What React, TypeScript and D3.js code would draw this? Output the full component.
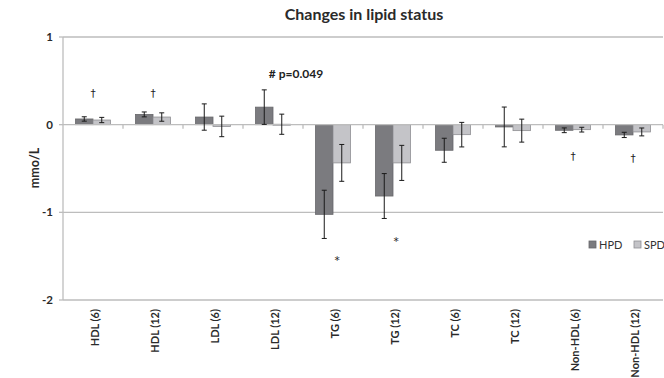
import React from "react";
import * as d3 from "d3";

const categories = [
  "HDL (6)", "HDL (12)", "LDL (6)", "LDL (12)", "TG (6)",
  "TG (12)", "TC (6)", "TC (12)", "Non-HDL (6)", "Non-HDL (12)",
];
const seriesNames = ["HPD", "SPD"];
const hpdValues = [0.065, 0.117, 0.087, 0.2, -1.023, -0.814, -0.292, -0.026, -0.064, -0.117];
const hpdErrors = [0.025, 0.028, 0.15, 0.197, 0.275, 0.256, 0.137, 0.227, 0.027, 0.03];
const spdValues = [0.053, 0.087, -0.02, 0.005, -0.436, -0.436, -0.114, -0.068, -0.057, -0.083];
const spdErrors = [0.03, 0.048, 0.117, 0.115, 0.21, 0.2, 0.14, 0.131, 0.027, 0.045];
const yTicks = [1, 0, -1, -2];

// significance markers: category index, value position, label
const markers = [
  { cat: 0, v: 0.36, text: "†", dx: 0 },
  { cat: 1, v: 0.36, text: "†", dx: 0 },
  { cat: 3, v: 0.58, text: "# p=0.049", dx: 23 },
  { cat: 4, v: -1.545, text: "*", dx: 4 },
  { cat: 5, v: -1.33, text: "*", dx: 3 },
  { cat: 8, v: -0.36, text: "†", dx: 0 },
  { cat: 9, v: -0.38, text: "†", dx: 0 },
];

const W = 664;
const H = 378;
const left = 63;
const right = 663;
const top = 37;
const bottom = 300;
const font = "Lato, 'Open Sans', sans-serif";
const symFont = "'DejaVu Sans', sans-serif";

export default function App() {
  const x = d3.scaleBand<string>().domain(categories).range([left, right]);
  const y = d3.scaleLinear().domain([-2, 1]).range([bottom, top]);
  const barW = 17.5;
  const series = [
    { name: seriesNames[0], values: hpdValues, errs: hpdErrors, fill: "#7b7b7f", stroke: "#68686b" },
    { name: seriesNames[1], values: spdValues, errs: spdErrors, fill: "#c4c4c8", stroke: "#8f8f93" },
  ];
  const textColor = "#2a2a2a";

  return (
    <svg width={W} height={H} style={{ position: "absolute", left: 0, top: 0 }}>
      <rect width={W} height={H} fill="#fff" />
      <text x={364} y={19.5} textAnchor="middle" fontFamily={font} fontWeight="bold" fontSize={16} fill={textColor}>
        Changes in lipid status
      </text>

      {/* gridlines */}
      {yTicks.filter((t) => t !== 0).map((t) => (
        <line key={t} x1={left} x2={right} y1={y(t)} y2={y(t)} stroke="#bdbdbd" strokeWidth={1.3} />
      ))}
      {/* value axis */}
      <line x1={left} x2={left} y1={top} y2={bottom} stroke="#bdbdbd" strokeWidth={1.3} />
      {yTicks.map((t) => (
        <g key={t}>
          <line x1={left - 4} x2={left} y1={y(t)} y2={y(t)} stroke="#bdbdbd" strokeWidth={1.3} />
          <text x={53} y={y(t) + 4} textAnchor="end" fontFamily={font} fontWeight="bold" fontSize={11.5} fill={textColor}>
            {t}
          </text>
        </g>
      ))}
      <text
        transform={`translate(39,${168}) rotate(-90)`}
        textAnchor="middle"
        fontFamily={font}
        fontWeight="bold"
        fontSize={12.5}
        fill={textColor}
      >
        mmo/L
      </text>

      {/* bars */}
      {series.map((s, si) =>
        categories.map((c, i) => {
          const cx = (x(c) as number) + x.bandwidth() / 2 - barW + si * barW;
          const v = s.values[i];
          const y0 = y(0);
          const y1 = y(v);
          return (
            <rect
              key={`${s.name}-${c}`}
              x={cx}
              y={Math.min(y0, y1)}
              width={barW}
              height={Math.max(1, Math.abs(y1 - y0))}
              fill={s.fill}
              stroke={s.stroke}
              strokeWidth={0.8}
            />
          );
        })
      )}

      {/* category axis at zero */}
      <line x1={left} x2={right} y1={y(0)} y2={y(0)} stroke="#bdbdbd" strokeWidth={1.3} />
      {categories.map((c) => (
        <line key={c} x1={(x(c) as number) + x.bandwidth()} x2={(x(c) as number) + x.bandwidth()} y1={y(0)} y2={y(0) + 4} stroke="#bdbdbd" strokeWidth={1.3} />
      ))}

      {/* error bars */}
      {series.map((s, si) =>
        categories.map((c, i) => {
          const ex = (x(c) as number) + x.bandwidth() / 2 - barW / 2 + si * barW;
          const v = s.values[i];
          const e = s.errs[i];
          return (
            <g key={`err-${s.name}-${c}`} stroke="#1a1a1a" strokeWidth={1}>
              <line x1={ex} x2={ex} y1={y(v + e)} y2={y(v - e)} />
              <line x1={ex - 2.5} x2={ex + 2.5} y1={y(v + e)} y2={y(v + e)} />
              <line x1={ex - 2.5} x2={ex + 2.5} y1={y(v - e)} y2={y(v - e)} />
            </g>
          );
        })
      )}

      {/* category labels */}
      {categories.map((c) => {
        const cx = (x(c) as number) + x.bandwidth() / 2 + 2;
        return (
          <text
            key={`lab-${c}`}
            transform={`translate(${cx + 4},${bottom + 9}) rotate(-90)`}
            textAnchor="end"
            fontFamily={font}
            fontWeight="bold"
            fontSize={11}
            fill={textColor}
          >
            {c}
          </text>
        );
      })}

      {/* significance markers */}
      {markers.map((m, k) => {
        const long = m.text.length > 1;
        const mx = (x(categories[m.cat]) as number) + x.bandwidth() / 2 + m.dx;
        const my = y(m.v) + 4;
        return (
          <text
            key={`m-${k}`}
            x={mx}
            y={my}
            textAnchor="middle"
            fontFamily={long ? font : symFont}
            fontWeight={long ? "bold" : "normal"}
            fontSize={long ? 12 : 10.5}
            fill="#222"
          >
            {m.text}
          </text>
        );
      })}

      {/* legend */}
      {series.map((s, si) => {
        const lx = 589 + si * 45;
        return (
          <g key={`leg-${s.name}`}>
            <rect x={lx} y={241} width={7} height={7} fill={s.fill} stroke={s.stroke} strokeWidth={0.8} />
            <text x={lx + 10} y={248.5} fontFamily={font} fontSize={11} fill="#333">
              {s.name}
            </text>
          </g>
        );
      })}
    </svg>
  );
}
